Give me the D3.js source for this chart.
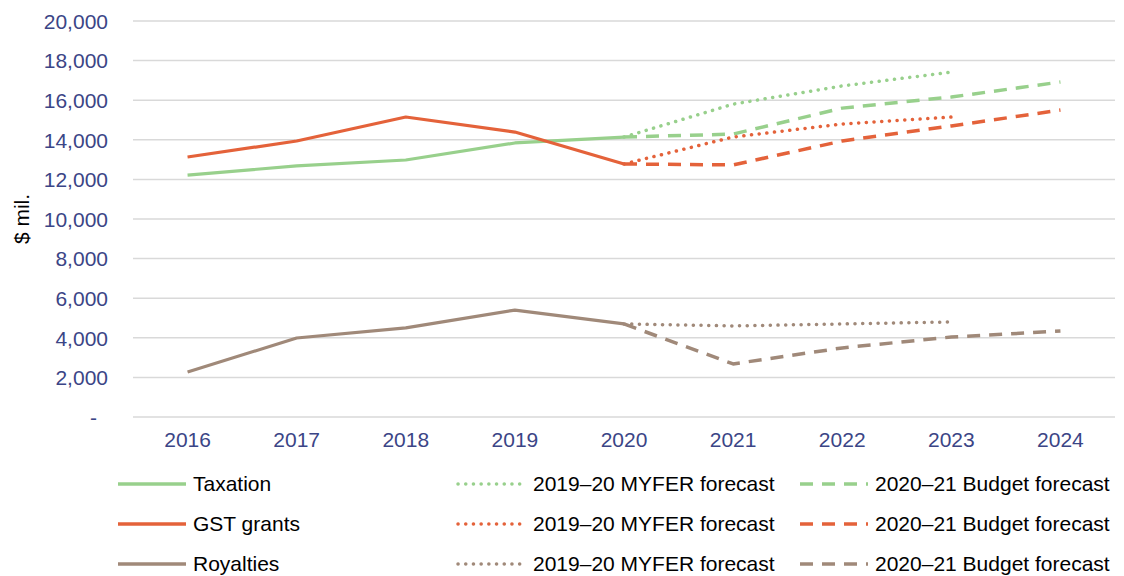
<!DOCTYPE html>
<html lang="en">
<head>
  <meta charset="UTF-8" />
  <title>Revenue forecasts</title>
  <script src="https://d3js.org/d3.v7.min.js"></script>
  <style>
    body { margin: 0; background: #fff; font-family: "Liberation Sans", Arial, sans-serif; }
    .tick text { fill: #3b4586; font-size: 21px; }
    .legend text { font-size: 21px; fill: #000; }
  </style>
</head>
<body>
  <div id="chart"></div>
  <script>
    // Dados
    const years = ["2016", "2017", "2018", "2019", "2020", "2021", "2022", "2023", "2024"];
    const yTicks = [0, 2000, 4000, 6000, 8000, 10000, 12000, 14000, 16000, 18000, 20000];

    const taxation = [12220, 12680, 12980, 13840, 14140];
    const taxMyfer = [14140, 15800, 16720, 17420];
    const taxBudget = [14140, 14290, 15600, 16160, 16920];

    const gst = [13130, 13940, 15150, 14390, 12780];
    const gstMyfer = [12780, 14140, 14800, 15150];
    const gstBudget = [12780, 12730, 13940, 14700, 15500];

    const royalties = [2270, 3990, 4500, 5400, 4700];
    const royMyfer = [4700, 4600, 4700, 4800];
    const royBudget = [4700, 2680, 3490, 4040, 4340];

    const colors = { tax: "#98d08c", gst: "#e4623a", roy: "#a08979" };
    const dashStyle = "13,9";
    const dotStyle = "0.1,7.6";

    const width = 1124, height = 576;
    const margin = { top: 21, left: 133, right: 9, bottom: 159 };
    const innerW = width - margin.left - margin.right;
    const innerH = height - margin.top - margin.bottom;

    const svg = d3.select("#chart").append("svg")
      .attr("width", width).attr("height", height);
    const g = svg.append("g").attr("transform", `translate(${margin.left},${margin.top})`);

    const x = d3.scaleBand().domain(years).range([0, innerW]);
    const cx = d => x(d) + x.bandwidth() / 2;
    const y = d3.scaleLinear().domain([0, 20000]).range([innerH, 0]);

    // Linhas de grade
    g.append("g").selectAll("line").data(yTicks).join("line")
      .attr("x1", 0).attr("x2", innerW)
      .attr("y1", d => y(d)).attr("y2", d => y(d))
      .attr("stroke", "#d9d9d9").attr("stroke-width", 1.5);

    // Eixo Y
    const fmt = d3.format(",");
    const yAxis = g.append("g").attr("transform", "translate(-25,0)")
      .call(d3.axisLeft(y).tickValues(yTicks).tickSize(0).tickPadding(0)
        .tickFormat(d => d === 0 ? "-" : fmt(d)));
    yAxis.select(".domain").remove();
    yAxis.selectAll("text").attr("dy", "0.35em")
      .attr("dx", d => d === 0 ? -11 : 0);

    // Eixo X
    const xAxis = g.append("g").attr("transform", `translate(0,${innerH})`)
      .call(d3.axisBottom(x).tickSize(0).tickPadding(15));
    xAxis.select(".domain").remove();

    svg.append("text")
      .attr("transform", `translate(22,${margin.top + innerH / 2}) rotate(-90)`)
      .attr("text-anchor", "middle")
      .attr("dy", "0.35em")
      .style("font-size", "21px")
      .text("$ mil.");

    const line = (start) => d3.line()
      .x((d, i) => cx(years[start + i]))
      .y(d => y(d));

    const series = [
      { data: taxation, start: 0, color: colors.tax, dash: null },
      { data: gst, start: 0, color: colors.gst, dash: null },
      { data: royalties, start: 0, color: colors.roy, dash: null },
      { data: taxMyfer, start: 4, color: colors.tax, dash: dotStyle },
      { data: taxBudget, start: 4, color: colors.tax, dash: dashStyle },
      { data: gstMyfer, start: 4, color: colors.gst, dash: dotStyle },
      { data: gstBudget, start: 4, color: colors.gst, dash: dashStyle },
      { data: royMyfer, start: 4, color: colors.roy, dash: dotStyle },
      { data: royBudget, start: 4, color: colors.roy, dash: dashStyle }
    ];

    series.forEach(s => {
      g.append("path")
        .datum(s.data)
        .attr("fill", "none")
        .attr("stroke", s.color)
        .attr("stroke-width", s.dash ? 3.5 : 3.2)
        .attr("stroke-linecap", s.dash === dotStyle ? "round" : "butt")
        .attr("stroke-linejoin", "round")
        .attr("stroke-dasharray", s.dash)
        .attr("d", line(s.start));
    });

    // Legenda
    const legendRows = [
      { name: "Taxation", color: colors.tax },
      { name: "GST grants", color: colors.gst },
      { name: "Royalties", color: colors.roy }
    ];
    const legendCols = [
      { x: 118, dash: null, label: d => d.name },
      { x: 458, dash: dotStyle, label: () => "2019–20 MYFER forecast" },
      { x: 800, dash: dashStyle, label: () => "2020–21 Budget forecast" }
    ];
    const legend = svg.append("g").attr("class", "legend");
    legendRows.forEach((r, ri) => {
      const ly = 484 + ri * 40;
      legendCols.forEach(c => {
        legend.append("line")
          .attr("x1", c.x).attr("x2", c.x + 68)
          .attr("y1", ly).attr("y2", ly)
          .attr("stroke", r.color)
          .attr("stroke-width", 3.5)
          .attr("stroke-linecap", c.dash === dotStyle ? "round" : "butt")
          .attr("stroke-dasharray", c.dash);
        legend.append("text")
          .attr("x", c.x + 75).attr("y", ly)
          .attr("dy", "0.35em")
          .text(c.label(r));
      });
    });
  </script>
</body>
</html>
